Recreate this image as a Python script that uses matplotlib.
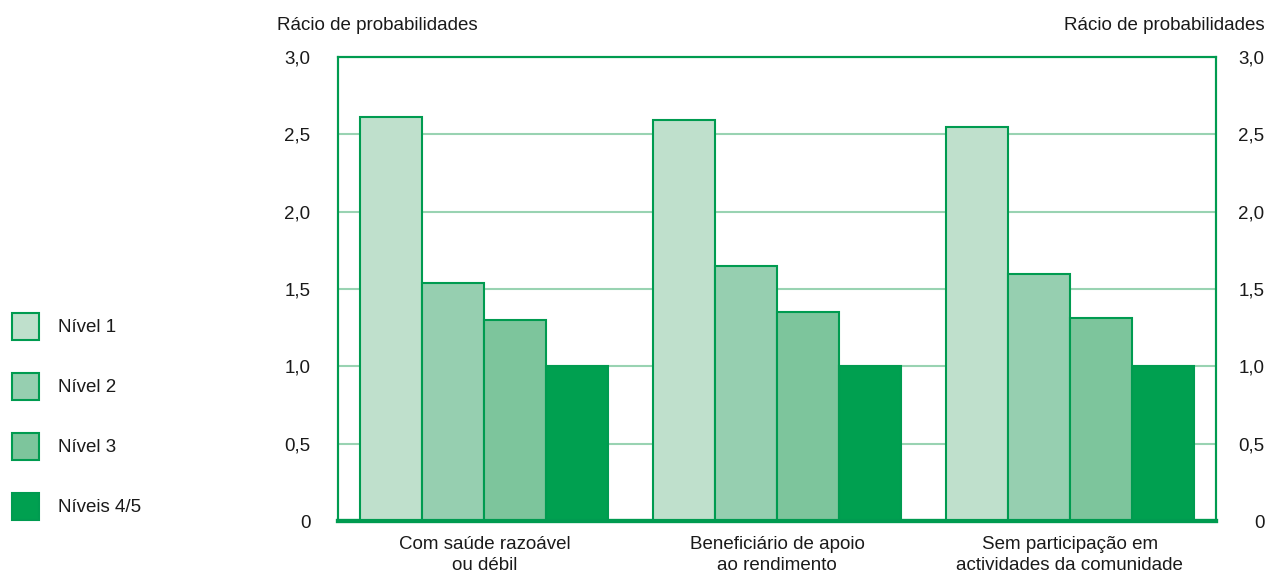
import matplotlib.pyplot as plt
import numpy as np
from matplotlib.patches import Rectangle
from matplotlib import font_manager

# data
categories = ['Com saúde razoável\nou débil',
              'Beneficiário de apoio\nao rendimento',
              'Sem participação em\nactividades da comunidade']
series_names = ['Nível 1', 'Nível 2', 'Nível 3', 'Níveis 4/5']
nivel1 = [2.61, 2.59, 2.55]
nivel2 = [1.54, 1.65, 1.60]
nivel3 = [1.30, 1.35, 1.31]
nivel45 = [1.0, 1.0, 1.0]
yticks = [0, 0.5, 1.0, 1.5, 2.0, 2.5, 3.0]
ytick_labels = ['0', '0,5', '1,0', '1,5', '2,0', '2,5', '3,0']
ylabel = 'Rácio de probabilidades'

# fonts
names = {f.name for f in font_manager.fontManager.ttflist}
fam = 'Liberation Sans Narrow' if 'Liberation Sans Narrow' in names else 'Liberation Sans'
plt.rcParams['font.family'] = [fam, 'DejaVu Sans']
fs = 14.5 if fam == 'Liberation Sans Narrow' else 13.5

green = '#009b50'
grid_c = '#99d3b2'
fills = ['#bfe0cc', '#96cfb0', '#7dc59c', '#00a050']
values = [nivel1, nivel2, nivel3, nivel45]

fig = plt.figure(figsize=(12.69, 5.75), dpi=100)
ax = fig.add_axes([0.2664, 0.0939, 0.6918, 0.807])

x = np.arange(len(categories))
w = 0.212
offsets = [-1.5, -0.5, 0.5, 1.5]
for vals, col, off in zip(values, fills, offsets):
    ax.bar(x + off * w, vals, width=w, color=col, edgecolor=green, linewidth=1.5, zorder=3)

ax.set_xlim(-0.5, 2.5)
ax.set_ylim(0, 3.0)
ax.set_yticks(yticks)
ax.set_yticklabels(ytick_labels)
ax.yaxis.grid(True, color=grid_c, linewidth=1.5, zorder=0)
ax.set_axisbelow(True)
ax.set_xticks(x)
ax.set_xticklabels(categories, fontsize=fs, linespacing=1.25)
ax.tick_params(axis='x', length=0, pad=11, colors='#1a1a1a')
ax.tick_params(axis='y', length=0, pad=20, labelsize=fs, colors='#1a1a1a')

# right-hand axis with same scale
ax2 = ax.twinx()
ax2.set_ylim(0, 3.0)
ax2.set_yticks(yticks)
ax2.set_yticklabels(ytick_labels, ha='right')
ax2.tick_params(axis='y', length=0, pad=35, labelsize=fs, colors='#1a1a1a')

for a in (ax, ax2):
    for s in ['left', 'right', 'top']:
        a.spines[s].set_color(green)
        a.spines[s].set_linewidth(1.5)
    a.spines['bottom'].set_color(green)
    a.spines['bottom'].set_linewidth(3)

fig.text(277 / 1269, 1 - 25 / 575, ylabel, fontsize=fs, ha='left', va='center', color='#1a1a1a')
fig.text(1265 / 1269, 1 - 25 / 575, ylabel, fontsize=fs, ha='right', va='center', color='#1a1a1a')

# legend
sq_top = [313, 373, 433, 493]
for name, col, top in zip(series_names, fills, sq_top):
    fig.patches.append(Rectangle((12 / 1269, 1 - (top + 27) / 575), 27 / 1269, 27 / 575,
                                 transform=fig.transFigure, facecolor=col,
                                 edgecolor=green, linewidth=1.5))
    fig.text(58 / 1269, 1 - (top + 15) / 575, name, fontsize=fs, ha='left', va='center',
             color='#1a1a1a')

fig.savefig('out.png', dpi=100)
